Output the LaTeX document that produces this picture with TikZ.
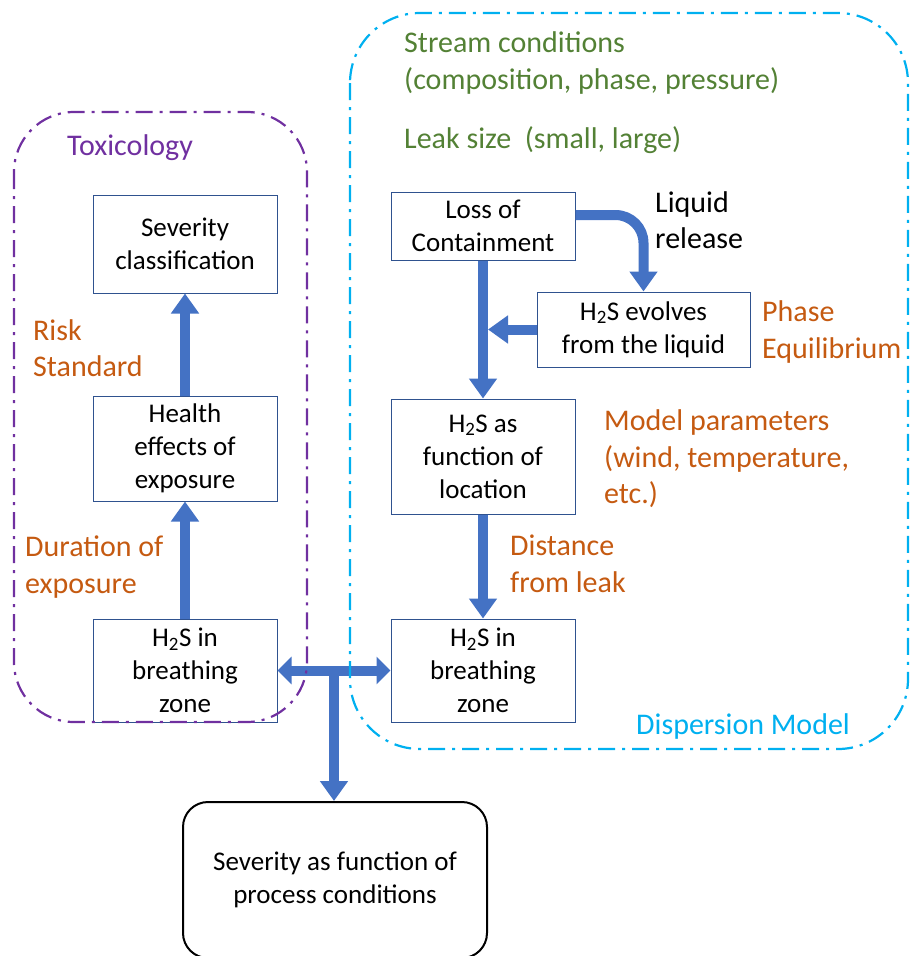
\documentclass[tikz,border=0pt]{standalone}
\usepackage{fontspec}
\setmainfont{Carlito}
\usetikzlibrary{arrows.meta, positioning, calc}
\definecolor{BoxEdge}{HTML}{2F528F}
\definecolor{FlowBlue}{HTML}{4472C4}
\definecolor{ToxPurple}{HTML}{7030A0}
\definecolor{DispCyan}{HTML}{00B0F0}
\definecolor{ParamOrange}{HTML}{C55A11}
\definecolor{StreamGreen}{HTML}{538135}
\newcommand{\HtwoS}{H\textsubscript{2}S}

\begin{document}
\begin{tikzpicture}[x=1pt, y=1pt,
            box/.style={rectangle, draw=BoxEdge, line width=1pt, fill=white, minimum width=184pt,
                        align=center, inner sep=0pt, font=\fontsize{27}{33}\selectfont},
            note/.style={anchor=west, align=left, inner sep=0pt, font=\fontsize{30}{36.5}\selectfont},
            zone/.style={rounded corners=60pt, line width=2.2pt, dash pattern=on 17pt off 7pt on 3pt off 7pt},
            flow/.style={line width=10pt, FlowBlue, -{Triangle[width=27pt, length=20pt]}}
        ]
            \useasboundingbox (0,0) rectangle (910,-956);

            % toxicology side
            \node[box, minimum height=98pt] (sev) at (185,-244) {Severity\\classification};
            \node[box, minimum height=105pt, below=102pt of sev] (health) {Health\\effects of\\exposure};
            \node[box, minimum height=103pt, below=117pt of health] (zonel) {\HtwoS{} in\\breathing\\zone};

            % dispersion side
            \node[box, minimum height=68pt] (loss) at (483,-226) {Loss of\\Containment};
            \node[box, minimum height=115pt, below=138pt of loss] (where) {\HtwoS{} as\\function of\\location};
            \node[box, minimum height=103pt, below=104pt of where] (zoner) {\HtwoS{} in\\breathing\\zone};
            \node[box, minimum width=213pt, minimum height=75pt] (evolve) at (643.5,-329.5) {\HtwoS{} evolves\\from the liquid};

            \node[box, draw=black, line width=2pt, rounded corners=25pt, minimum width=304pt,
                  minimum height=156pt] (outcome) at (335,-880) {Severity as function of\\process conditions};

            \draw[flow] (health) -- (sev);
            \draw[flow] (zonel) -- (health);
            \draw[flow] (loss) -- (where);
            \draw[flow] (where) -- (zoner);
            \draw[flow] (evolve.west) -- ([xshift=5pt]evolve.west -| loss.south);
            \draw[flow, rounded corners=28pt] ([yshift=11pt]loss.east) -| (evolve.north);
            \draw[flow, {Triangle[width=27pt, length=14pt]}-{Triangle[width=27pt, length=14pt]}] (zonel) -- (zoner);
            \coordinate (tee) at ($(zonel.east)!0.5!(zoner.west)$);
            \draw[flow] (tee) -- (tee |- outcome.north);

            % labels
            \node[note, ToxPurple] (toxlbl) at (67,-148) {Toxicology};
            \node[note, ParamOrange] (risk) at (33,-348) {Risk\\Standard};
            \node[note, ParamOrange] (duration) at (25,-567) {Duration of\\exposure};
            \node[note, StreamGreen] (stream) at (404,-63) {Stream conditions\\(composition, phase, pressure)};
            \node[note, StreamGreen] (leak) at (404,-140) {Leak size\ \ (small, large)};
            \node[note] (liquid) at (655,-220) {Liquid\\release};
            \node[note, ParamOrange] (phase) at (762,-332) {Phase\\Equilibrium};
            \node[note, ParamOrange] (params) at (604,-459) {Model parameters\\(wind, temperature,\\etc.)};
            \node[note, ParamOrange] (distance) at (510,-564) {Distance\\from leak};
            \node[note, DispCyan] (displbl) at (636,-726) {Dispersion Model};

            % boundaries
            \draw[zone, ToxPurple] (14,-112) rectangle (307,-722);
            \draw[zone, DispCyan, rounded corners=70pt] (350,-13) rectangle (908,-749);
        \end{tikzpicture}
\end{document}
